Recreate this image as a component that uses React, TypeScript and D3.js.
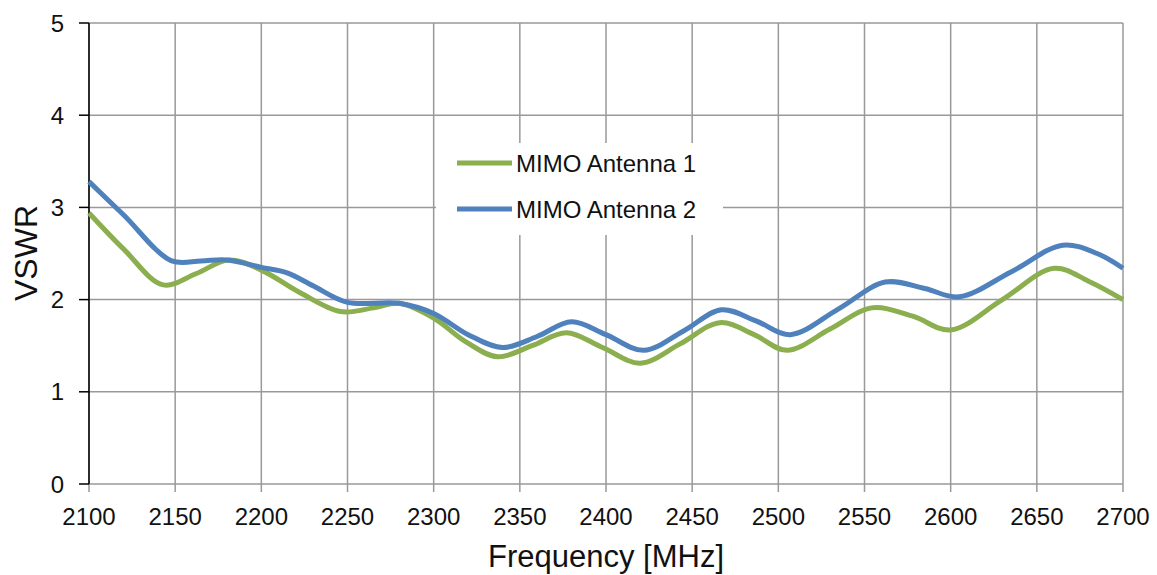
import React from "react";
import * as d3 from "d3";

const freq1 = [2100, 2120, 2143, 2162, 2181, 2200, 2222, 2246, 2265, 2280, 2300, 2318, 2337, 2357, 2377, 2398, 2420, 2443, 2466, 2486, 2505, 2530, 2554, 2578, 2600, 2630, 2660, 2680, 2700];
const vswr1 = [2.94, 2.55, 2.16, 2.28, 2.43, 2.32, 2.08, 1.87, 1.91, 1.96, 1.80, 1.55, 1.38, 1.50, 1.64, 1.48, 1.31, 1.52, 1.75, 1.62, 1.45, 1.68, 1.91, 1.82, 1.67, 2.0, 2.34, 2.2, 2.0];

const freq2 = [2100, 2120, 2148, 2165, 2180, 2200, 2215, 2230, 2250, 2280, 2300, 2320, 2340, 2360, 2380, 2400, 2422, 2445, 2467, 2487, 2507, 2535, 2562, 2585, 2605, 2635, 2665, 2685, 2700];
const vswr2 = [3.28, 2.92, 2.42, 2.42, 2.43, 2.35, 2.29, 2.15, 1.97, 1.96, 1.85, 1.62, 1.48, 1.60, 1.76, 1.62, 1.45, 1.66, 1.89, 1.77, 1.62, 1.90, 2.19, 2.12, 2.03, 2.30, 2.59, 2.5, 2.34];

const xTicks = [2100, 2150, 2200, 2250, 2300, 2350, 2400, 2450, 2500, 2550, 2600, 2650, 2700];
const yTicks = [0, 1, 2, 3, 4, 5];
const seriesNames = ["MIMO Antenna 1", "MIMO Antenna 2"];
const seriesColors = ["#8BAE4E", "#4F81BD"];

export default function App() {
  const W = 1157, H = 575;
  const L = 89, R = 1123, T = 23, B = 484;
  const x = d3.scaleLinear().domain([2100, 2700]).range([L, R]);
  const y = d3.scaleLinear().domain([0, 5]).range([B, T]);
  const line = d3.line<[number, number]>().x(d => x(d[0])).y(d => y(d[1])).curve(d3.curveCatmullRom.alpha(0.5));
  const d1 = line(freq1.map((f, i) => [f, vswr1[i]] as [number, number])) || "";
  const d2 = line(freq2.map((f, i) => [f, vswr2[i]] as [number, number])) || "";
  const font = "'Liberation Sans', Arial, sans-serif";
  const grid = "#999";
  const leg = { x0: 436, x1: 723, y0: 143, y1: 235 };
  return (
    <svg width={W} height={H} style={{ position: "absolute", left: 0, top: 0, background: "#fff" }} fontFamily={font}>
      {xTicks.map(t => (
        <line key={"gx" + t} x1={x(t)} x2={x(t)} y1={T} y2={B + 8} stroke={grid} strokeWidth={1.5} />
      ))}
      {yTicks.map(t => (
        <line key={"gy" + t} x1={L} x2={R} y1={y(t)} y2={y(t)} stroke={grid} strokeWidth={1.5} />
      ))}
      <line x1={L} x2={L} y1={T} y2={B} stroke="#000" strokeWidth={1.5} />
      {yTicks.map(t => (
        <line key={"ty" + t} x1={L - 10} x2={L} y1={y(t)} y2={y(t)} stroke="#000" strokeWidth={1.5} />
      ))}
      {yTicks.map(t => (
        <text key={"ly" + t} x={64} y={y(t)} dy="0.36em" textAnchor="end" fontSize={24} fill="#111">{t}</text>
      ))}
      {xTicks.map(t => (
        <text key={"lx" + t} x={x(t)} y={525} textAnchor="middle" fontSize={24} fill="#111">{t}</text>
      ))}
      <path d={d1} fill="none" stroke={seriesColors[0]} strokeWidth={5} />
      <path d={d2} fill="none" stroke={seriesColors[1]} strokeWidth={5} />
      <rect x={leg.x0} y={leg.y0} width={leg.x1 - leg.x0} height={leg.y1 - leg.y0} fill="#fff" />
      {seriesNames.map((n, i) => (
        <g key={n}>
          <line x1={457} x2={512} y1={163 + i * 46} y2={163 + i * 46} stroke={seriesColors[i]} strokeWidth={5} />
          <text x={516} y={163 + i * 46} dy="0.36em" fontSize={24} fill="#111">{n}</text>
        </g>
      ))}
      <text x={(L + R) / 2} y={567} textAnchor="middle" fontSize={31} fill="#111">Frequency [MHz]</text>
      <text transform={`translate(37,253) rotate(-90)`} textAnchor="middle" fontSize={32} fill="#111">VSWR</text>
    </svg>
  );
}
